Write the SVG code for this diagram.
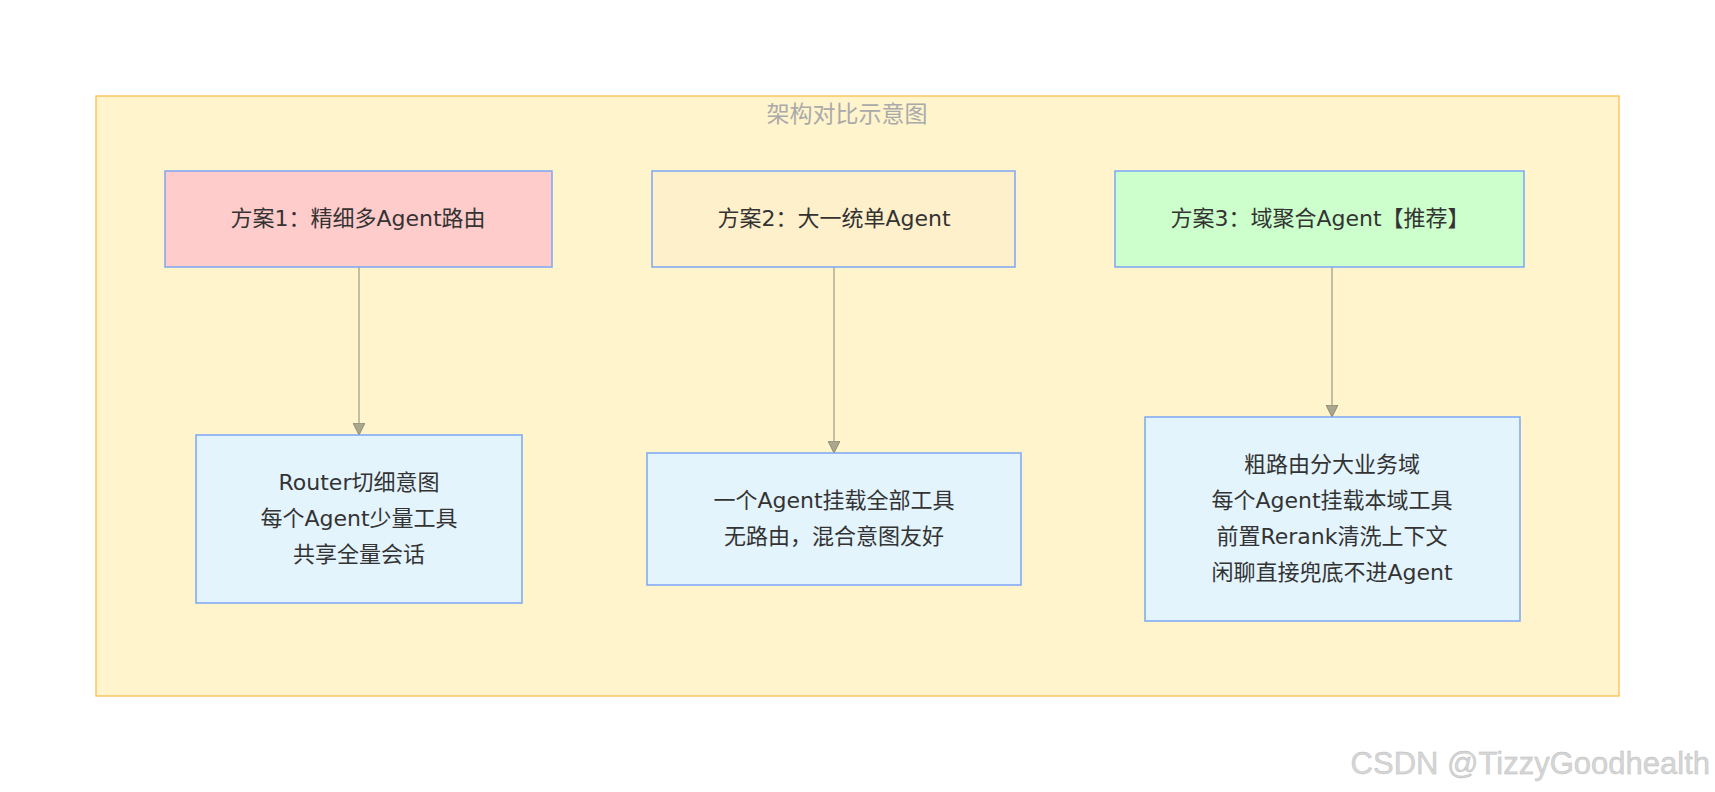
<svg xmlns="http://www.w3.org/2000/svg" width="1715" height="792" viewBox="0 0 1715 792">
<style>
.n{stroke:#7ba7f5;stroke-width:1.5}
.t{font-family:"DejaVu Sans","Noto Sans CJK SC",sans-serif;font-size:22px;fill:#333;text-anchor:middle}
.e{stroke:#9a9a85;stroke-width:1.2;fill:none}
</style>
<defs><marker id="a" viewBox="0 0 10 10" refX="10" refY="5" markerWidth="12" markerHeight="12" markerUnits="userSpaceOnUse" orient="auto"><path d="M0,0L10,5L0,10z" fill="#a9a78e" stroke="#8a8870" stroke-width="0.8"/></marker></defs>
<rect width="1715" height="792" fill="#fff"/>
<g id="cluster"><rect x="96" y="96" width="1523" height="600" fill="#fff4cc" stroke="#fbbf4f" stroke-width="1.3"/>
<text x="847" y="122" class="t" style="fill:#aaa;font-size:23px">架构对比示意图</text></g>
<g id="edges">
<path class="e" d="M359,267V435" marker-end="url(#a)"/>
<path class="e" d="M834,267V453" marker-end="url(#a)"/>
<path class="e" d="M1332,267V417" marker-end="url(#a)"/>
</g>
<g id="p1"><rect class="n" x="165" y="171" width="387" height="96" fill="#ffcccc"/><text class="t" x="358" y="226">方案1：精细多Agent路由</text></g>
<g id="p2"><rect class="n" x="652" y="171" width="363" height="96" fill="#fff0cc"/><text class="t" x="834" y="226">方案2：大一统单Agent</text></g>
<g id="p3"><rect class="n" x="1115" y="171" width="409" height="96" fill="#ccffcc"/><text class="t" x="1320" y="226">方案3：域聚合Agent【推荐】</text></g>
<g id="b1"><rect class="n" x="196" y="435" width="326" height="168" fill="#e3f4fd"/><text class="t" x="359" y="490">Router切细意图</text><text class="t" x="359" y="526">每个Agent少量工具</text><text class="t" x="359" y="562">共享全量会话</text></g>
<g id="b2"><rect class="n" x="647" y="453" width="374" height="132" fill="#e3f4fd"/><text class="t" x="834" y="508">一个Agent挂载全部工具</text><text class="t" x="834" y="544">无路由，混合意图友好</text></g>
<g id="b3"><rect class="n" x="1145" y="417" width="375" height="204" fill="#e3f4fd"/><text class="t" x="1332" y="472">粗路由分大业务域</text><text class="t" x="1332" y="508">每个Agent挂载本域工具</text><text class="t" x="1332" y="544">前置Rerank清洗上下文</text><text class="t" x="1332" y="580">闲聊直接兜底不进Agent</text></g>
<text x="1710" y="774" style="font-family:'Liberation Sans',sans-serif;font-size:31px;fill:#d6d6d6;text-anchor:end;stroke:#bbb;stroke-width:0.4">CSDN @TizzyGoodhealth</text>
</svg>
